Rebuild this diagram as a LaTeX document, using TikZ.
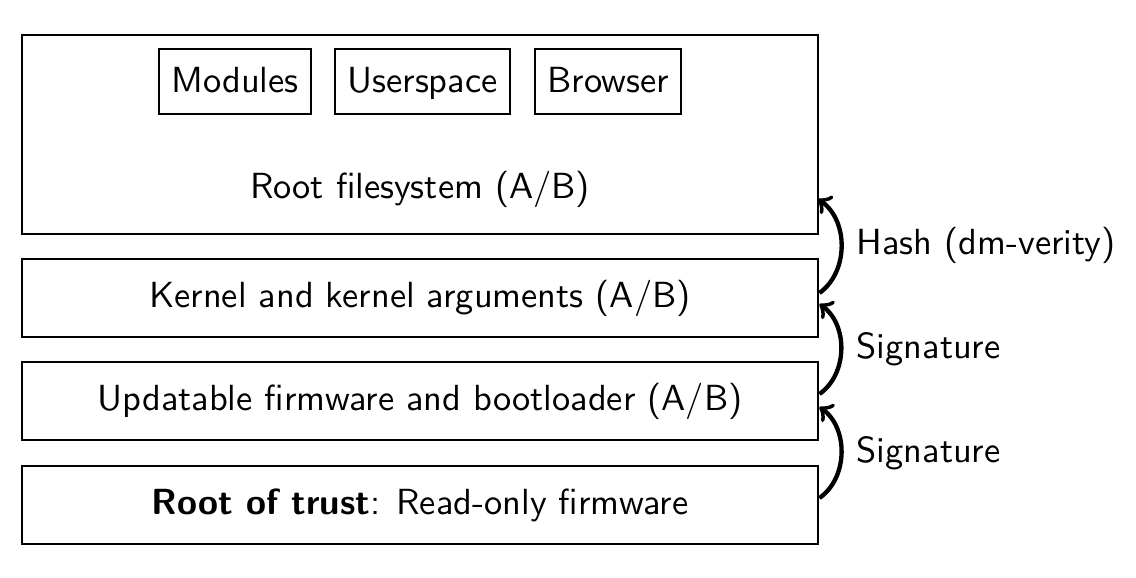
\documentclass[tikz,border=0pt]{standalone}
\usepackage{tikz}
\def\u{0.278pt}
\begin{document}
\begin{tikzpicture}[x=\u,y=-\u,
  every node/.style={font=\sffamily\fontsize{10.1}{12}\selectfont},
  box/.style={draw, line width=0.8pt, inner sep=0pt},
  layer/.style={box, minimum width=796*\u, minimum height=78*\u},
  small/.style={box, minimum height=65*\u, text height=1.6ex, text depth=0.15ex},
  link/.style={->, line width=1.2pt, bend right=55},
  lbl/.style={anchor=west, inner sep=0pt}]
\useasboundingbox (0,0) rectangle (1136,577);
\node[box, minimum width=796*\u, minimum height=199*\u] (rootfs) at (420,134.5) {};
\node (rootfstext) at (420,189) {Root filesystem (A/B)};
\node[small, minimum width=152*\u] (modules) at (235,81.5) {Modules};
\node[small, minimum width=175*\u] (userspace) at (422.5,81.5) {Userspace};
\node[small, minimum width=146*\u] (browser) at (608,81.5) {Browser};
\node[layer] (kernel) at (420,298) {Kernel and kernel arguments (A/B)};
\node[layer] (fw) at (420,401) {Updatable firmware and bootloader (A/B)};
\node[layer] (rot) at (420,505) {\textbf{Root of trust}: Read-only firmware};
\coordinate (fsin) at (818,199);
\draw[link] ([yshift=7*\u]rot.east) to ([yshift=-6*\u]fw.east);
\draw[link] ([yshift=7*\u]fw.east) to ([yshift=-6*\u]kernel.east);
\draw[link] ([yshift=5*\u]kernel.east) to (fsin);
\node[lbl] (sig1) at (856,453) {Signature};
\node[lbl] (sig2) at (856,349) {Signature};
\node[lbl] (hash) at (856,245) {Hash (dm-verity)};
\end{tikzpicture}
\end{document}
